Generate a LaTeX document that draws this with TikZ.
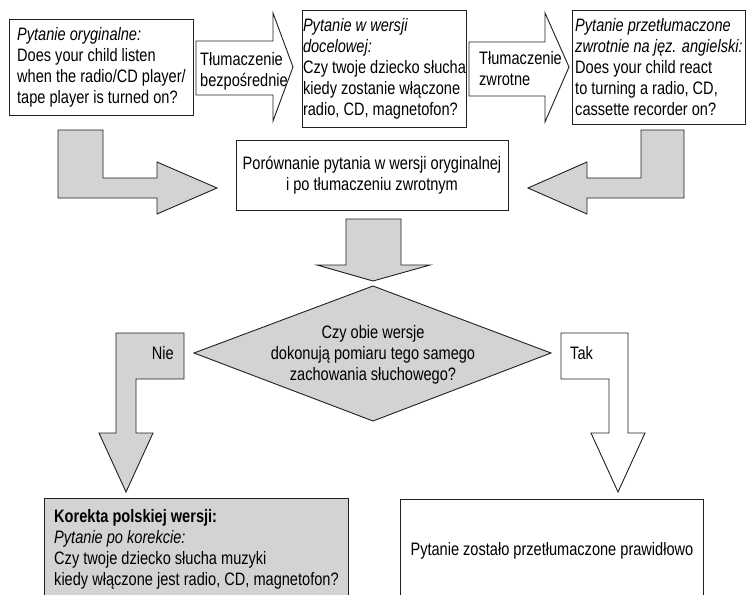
\documentclass[tikz,border=0pt]{standalone}
\usepackage{fontspec}
\setmainfont{Liberation Sans}[FakeStretch=0.81]
\usetikzlibrary{positioning}

\definecolor{linegray}{HTML}{231F20}
\definecolor{fillgray}{HTML}{D1D3D4}

\tikzset{
  txt/.style={font=\fontsize{18}{21}\selectfont, inner sep=0pt},
  qbox/.style={draw=linegray, line width=0.9pt, fill=white, align=left,
    anchor=north west, inner sep=0pt, font=\fontsize{18}{21}\selectfont},
  blockw/.style={draw=linegray, line width=0.9pt, fill=white},
  blockg/.style={blockw, fill=fillgray}
}

\begin{document}
\begin{tikzpicture}[x=1pt,y=-1pt]
  \useasboundingbox (0,0) rectangle (746,594);
  \clip (0,0) rectangle (746,594);

  % top row
  \node[qbox, minimum width=184pt, minimum height=96pt] (orig) at (9,19)
    {{\itshape Pytanie oryginalne:}\\Does your child listen\\when the radio/CD player/\\tape player is turned on?};
  \node[qbox, minimum width=164pt, minimum height=117pt] (target) at (302,10)
    {{\itshape Pytanie w wersji}\\{\itshape docelowej:}\\Czy twoje dziecko słucha\\kiedy zostanie włączone\\radio, CD, magnetofon?};
  \node[qbox, minimum width=173pt, minimum height=114pt] (back) at (572,10)
    {{\itshape Pytanie przetłumaczone}\\{\itshape zwrotnie na jęz. angielski:}\\Does your child react\\to turning a radio, CD,\\cassette recorder on?};

  \draw[blockw] (196,41) -- (273,41) -- (273,13) -- (293,67) -- (273,121) -- (273,95) -- (196,95) -- cycle;
  \node[txt, align=left, anchor=west] (direct) at (200,71) {Tłumaczenie\\bezpośrednie};
  \draw[blockw] (469,42) -- (545,42) -- (545,13) -- (569,67) -- (545,122) -- (545,96) -- (469,96) -- cycle;
  \node[txt, align=left, anchor=west] (reverse) at (479,69) {Tłumaczenie\\zwrotne};

  % comparison
  \node[qbox, anchor=center, align=center, minimum width=272pt, minimum height=70pt] (compare) at (372,175)
    {Porównanie pytania w wersji oryginalnej\\i po tłumaczeniu zwrotnym};
  \draw[blockg] (58,130) -- (103,130) -- (103,178) -- (157,178) -- (157,162) -- (217,188)
    -- (157,214) -- (157,198) -- (58,198) -- cycle;
  \draw[blockg] (684,130) -- (641,130) -- (641,178) -- (587,178) -- (587,162) -- (528,188)
    -- (587,214) -- (587,198) -- (684,198) -- cycle;
  \draw[blockg] (346,219) -- (401,219) -- (401,265) -- (430,265) -- (373,281) -- (317,265) -- (346,265) -- cycle;

  % decision
  \draw[blockg] (373,286) -- (551,353) -- (373,421) -- (194,353) -- cycle;
  \node[txt, align=center] (same) at (373,355)
    {Czy obie wersje\\dokonują pomiaru tego samego\\zachowania słuchowego?};

  \draw[blockg] (116,333) -- (184,333) -- (184,379) -- (136,379) -- (136,433) -- (153,433)
    -- (126,492) -- (99,433) -- (116,433) -- cycle;
  \node[txt, anchor=east] (no) at (174,353) {Nie};
  \draw[blockw] (561,333) -- (628,333) -- (628,433) -- (645,433) -- (618,492) -- (591,433)
    -- (609,433) -- (609,379) -- (561,379) -- cycle;
  \node[txt, anchor=west] (yes) at (570,353) {Tak};

  % results
  \node[qbox, fill=fillgray, minimum width=304pt, minimum height=102pt] (fix) at (44,498)
    {{\bfseries Korekta polskiej wersji:}\\{\itshape Pytanie po korekcie:}\\Czy twoje dziecko słucha muzyki\\kiedy włączone jest radio, CD, magnetofon?};
  \node[qbox, align=center, minimum width=303pt, minimum height=102pt] (ok) at (400,499)
    {Pytanie zostało przetłumaczone prawidłowo};
\end{tikzpicture}
\end{document}
